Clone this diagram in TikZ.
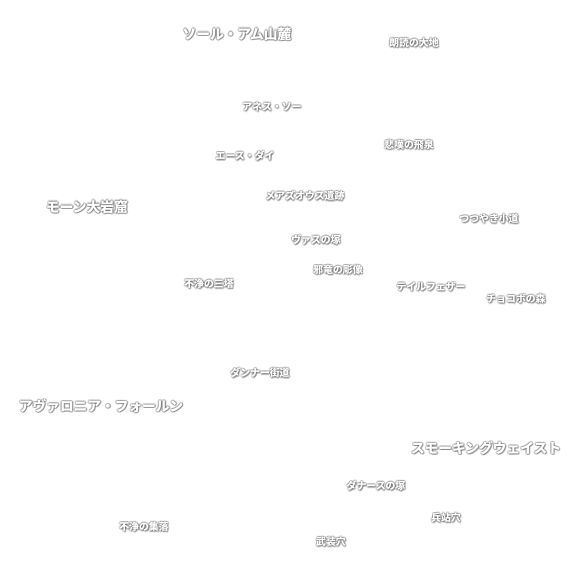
\documentclass[tikz,border=0pt]{standalone}
\usepackage{fontspec}
\usepackage{tikz}
\newfontfamily\jpfont{Noto Sans CJK JP}
\definecolor{glow}{RGB}{70, 70, 70}
\tikzset{
	place/.style={text=white, inner sep=0pt, font=\jpfont\bfseries\fontsize{5.6}{7}\selectfont},
	region/.style={place, font=\jpfont\bfseries\fontsize{7.8}{10}\selectfont},
}
\newcommand{\mapname}[4][place]{% [style]{node}{position}{label}
	\foreach \dx/\dy in {-0.7/0, 0.7/0, 0/-0.7, 0/0.7, -0.5/-0.5, 0.5/0.5, -0.5/0.5, 0.5/-0.5, 0.4/-0.9, 0.9/-0.4}{
		\node[#1, text=glow, text opacity=0.18, xshift=\dx pt, yshift=\dy pt] at (#3) {#4}; % glow
	}
	\node[#1] (#2) at (#3) {#4} % label
}

\begin{document}
\begin{tikzpicture}[x=0.02cm, y=-0.02cm]
				\fill[white] (0,0) rectangle (582,582);
				\useasboundingbox (0,0) rectangle (582,582);

				\mapname[region]{sohr}{237,34}{ソール・アム山麓};
				\mapname[region]{mourn}{87,207}{モーン大岩窟};
				\mapname[region]{avalonia}{101,406}{アヴァロニア・フォールン};
				\mapname[region]{wastes}{486,448}{スモーキングウェイスト};

				\mapname{earth}{414,43}{朗読の大地};
				\mapname{anyx}{272,107}{アネス・ソー};
				\mapname{falls}{409,145}{悲嘆の飛泉};
				\mapname{aesdai}{245,156}{エース・ダイ};
				\mapname{ruins}{305,196}{メアズオウス遺跡};
				\mapname{path}{489,219}{つつやき小道};
				\mapname{vath}{316,240}{ヴァスの塚};
				\mapname{statue}{338,270}{邪竜の彫像};
				\mapname{towers}{209,284}{不浄の三塔};
				\mapname{tail}{431,287}{テイルフェザー};
				\mapname{forest}{516,299}{チョコボの森};
				\mapname{road}{260,373}{ダンナー街道};
				\mapname{mound}{376,486}{ダナースの塚};
				\mapname{supply}{446,518}{兵站穴};
				\mapname{village}{144,527}{不浄の集落};
				\mapname{armory}{331,542}{武装穴};

			\end{tikzpicture}
\end{document}
